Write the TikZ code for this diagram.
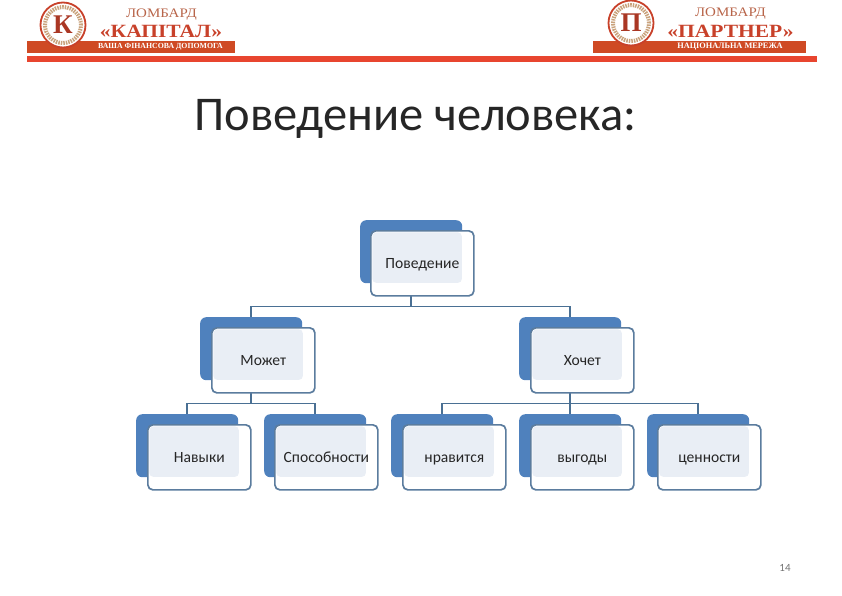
\documentclass[tikz,border=0pt]{standalone}
\usepackage{fontspec}
\setmainfont{Carlito}
\newfontfamily\logoserif{Liberation Serif}
\newfontfamily\logowide[FakeStretch=1.15]{Liberation Serif}
\usetikzlibrary{backgrounds,calc}
\definecolor{backblue}{HTML}{4F81BD}
\definecolor{edgeblue}{HTML}{5B7C9E}
\definecolor{panel}{HTML}{E9EEF5}
\definecolor{busline}{HTML}{4A7094}
\definecolor{rulered}{HTML}{E8452F}
\definecolor{bannerred}{HTML}{CF4A24}
\definecolor{logored}{HTML}{C8412A}
\definecolor{logobrown}{HTML}{B8654A}
\definecolor{ringtan}{HTML}{C9A27C}
\tikzset{
  x=1pt,y=-1pt,
  backbox/.style={fill=backblue,rounded corners=6pt,minimum width=102pt,minimum height=63pt,inner sep=0pt,anchor=north west},
  frontbox/.style={draw=edgeblue,line width=1.7pt,fill=white,rounded corners=5pt,minimum width=103pt,minimum height=65pt,inner sep=0pt,anchor=north west,font=\fontsize{15.6}{17}\selectfont,text=black!85,text height=10pt,text depth=0pt,
    path picture={\fill[panel,rounded corners=4pt] ($(path picture bounding box.north west)+(1.5pt,-1.5pt)$) rectangle ($(path picture bounding box.south east)+(-12pt,13pt)$);}},
  busedge/.style={draw=busline,line width=1.6pt},
  banner/.style={fill=bannerred,inner sep=0pt,anchor=north west},
  bannertext/.style={text=white,font=\fontsize{7.8}{9}\selectfont\logoserif\bfseries,inner sep=0pt},
  lombard/.style={text=logobrown,font=\fontsize{13}{13}\selectfont\logowide,inner sep=0pt},
  firmname/.style={text=logored,font=\fontsize{18.7}{19}\selectfont\logowide\bfseries,inner sep=0pt},
  sealouter/.style={circle,draw=logored,line width=1.8pt,fill=white,minimum size=45pt,inner sep=0pt},
  sealinner/.style={circle,draw=ringtan,line width=4pt,dash pattern=on 1.5pt off 1pt,fill=white,minimum size=36pt,inner sep=0pt},
  sealletter/.style={text=logored!85!black,font=\fontsize{27}{27}\selectfont\logoserif\bfseries,inner sep=0pt},
}
\newcommand{\orgbox}[5]{% name, back x, back y, front x, text
  \node[backbox] (#1b) at (#2,#3) {};
  \node[frontbox] (#1) at (#4,#3+10) {#5};
}
\begin{document}
\begin{tikzpicture}
\useasboundingbox (0,0) rectangle (842,595);

% header, left
\node[banner,minimum width=208pt,minimum height=12pt] (bannerL) at (27,41) {};
\node[bannertext] (bannerLt) at (160.5,46.5) {ВАША ФІНАНСОВА ДОПОМОГА};
\node[sealouter] (sealLo) at (63,25) {};
\node[sealinner] (sealLi) at (63,25) {};
\node[sealletter] (sealLt) at (63,25) {К};
\node[lombard] (lombL) at (161.5,15) {ЛОМБАРД};
\node[firmname] (firmL) at (161,31) {«КАПІТАЛ»};

% header, right
\node[banner,minimum width=213pt,minimum height=12pt] (bannerR) at (593,41) {};
\node[bannertext,font=\fontsize{8.3}{9}\selectfont\logoserif\bfseries] (bannerRt) at (730,46.5) {НАЦІОНАЛЬНА МЕРЕЖА};
\node[sealouter] (sealRo) at (631,23) {};
\node[sealinner] (sealRi) at (631,23) {};
\node[sealletter] (sealRt) at (631,23) {П};
\node[lombard] (lombR) at (730.5,14) {ЛОМБАРД};
\node[firmname] (firmR) at (730.5,31) {«ПАРТНЕР»};

\fill[rulered] (27,56) rectangle (817,61.5);

% title
\node[font=\fontsize{48.5}{52}\selectfont,text=black!85,inner sep=0pt] (title) at (415.5,119) {Поведение человека:};

% hierarchy
\orgbox{pov}{360}{220}{370}{Поведение}
\orgbox{mozh}{200}{317}{211}{Может}
\orgbox{hoch}{519}{317}{530}{Хочет}
\orgbox{nav}{136}{414}{147}{Навыки}
\orgbox{spo}{264}{414}{274}{Способности}
\orgbox{nra}{391}{414}{402}{нравится}
\orgbox{vyg}{519}{414}{530}{выгоды}
\orgbox{cen}{647}{414}{657}{ценности}

\begin{scope}[on background layer]
  \draw[busedge] (povb.south) -- ++(0,23) -| (mozhb.north);
  \draw[busedge] (povb.south) -- ++(0,23) -| (hochb.north);
  \draw[busedge] (mozhb.south) -- ++(0,23) -| (navb.north);
  \draw[busedge] (mozhb.south) -- ++(0,23) -| (spob.north);
  \draw[busedge] (hochb.south) -- ++(0,23) -| (nrab.north);
  \draw[busedge] (hochb.south) -- (vygb.north);
  \draw[busedge] (hochb.south) -- ++(0,23) -| (cenb.north);
\end{scope}

% page number
\node[font=\fontsize{11}{12}\selectfont,text=black!55,inner sep=0pt] (pagenum) at (785,568) {14};
\end{tikzpicture}
\end{document}
